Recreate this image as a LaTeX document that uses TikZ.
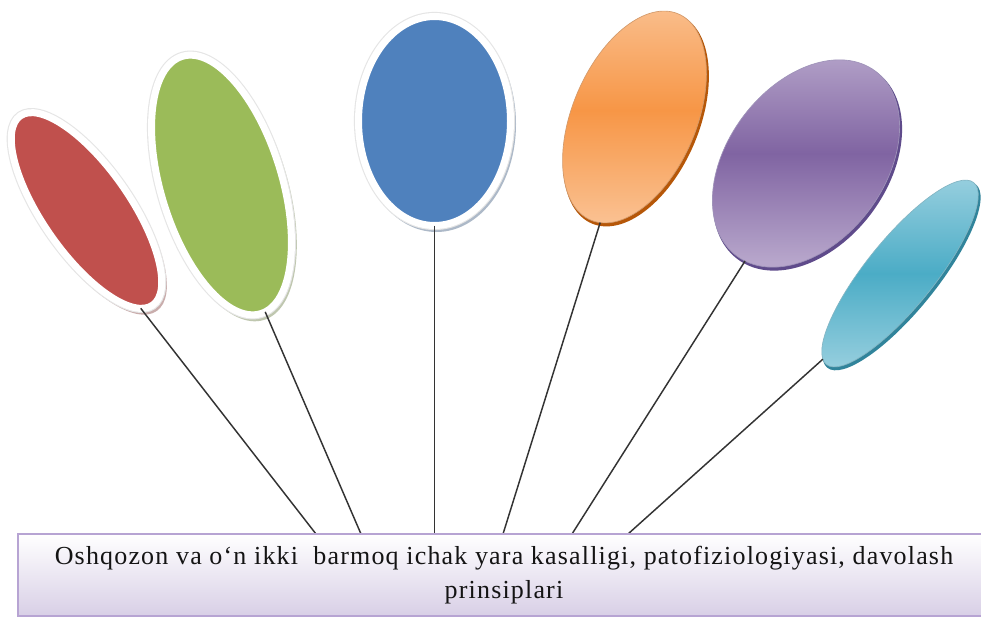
\documentclass[tikz,border=0pt]{standalone}
\usepackage{fontspec}
\setmainfont{Liberation Serif}
\usetikzlibrary{shapes.geometric}
\definecolor{cred}{HTML}{C0504D}
\definecolor{cgreen}{HTML}{9BBB59}
\definecolor{cblue}{HTML}{4F81BD}
\definecolor{orL}{HTML}{FAC090}
\definecolor{orM}{HTML}{F79646}
\definecolor{orD}{HTML}{B65708}
\definecolor{puL}{HTML}{B7A6CB}
\definecolor{puM}{HTML}{8064A2}
\definecolor{puD}{HTML}{5F4B8B}
\definecolor{cyL}{HTML}{93CDDD}
\definecolor{cyM}{HTML}{4BACC6}
\definecolor{cyD}{HTML}{31849B}
\definecolor{boxL}{HTML}{D8CFE6}
\definecolor{boxD}{HTML}{B7A4D3}
\definecolor{inkc}{HTML}{141414}
\newfontfamily\labelfont[LetterSpace=4.5]{Liberation Serif}
\tikzset{
  ell/.style 2 args={ellipse, inner sep=0pt, outer sep=0pt,
    minimum width={(#1)*1.5pt}, minimum height={(#2)*1.5pt}},
  link/.style={draw=black!80, line width=1.1pt},
  mainbox/.style={draw=boxD, line width=1.2pt, top color=white, bottom color=boxL,
    inner sep=0pt, align=center, text=inkc,
    font=\labelfont\fontsize{19.5}{26}\selectfont},
}
% name, cx, cy, semi-minor, semi-major, rotation, colour
\newcommand\flatball[7]{%
  \node[ell={#4+7}{#5+7}, rotate=#6, fill=#7!45!gray, opacity=0.55] at (#2+2,#3+3) {};
  \node[ell={#4+3.5}{#5+3.5}, rotate=#6, fill=#7, draw=white, line width=5.25pt,
        preaction={draw=black!10, line width=6.9pt}] (#1) at (#2,#3) {};
}
% name, cx, cy, semi-minor, semi-major, rotation, light, mid, dark
\newcommand\glossball[9]{%
  \node[ell={#4+1}{#5+1}, rotate=#6, fill=#9] at (#2+1.5,#3+2.5) {};
  \node[ell={#4}{#5}, rotate=#6, draw=#9!60, line width=0.5pt,
        top color=#7, bottom color=#7, middle color=#8] (#1) at (#2,#3) {};
}
\begin{document}
\begin{tikzpicture}[x=0.75pt, y=-0.75pt]
\useasboundingbox (0,0) rectangle (981,617);
\fill[white] (0,0) rectangle (981,617);

\flatball{red}{86.5}{210.5}{40}{112}{35}{cred}
\flatball{green}{221.5}{185}{57}{131}{17}{cgreen}
\flatball{blue}{434.5}{121}{72.5}{101}{0}{cblue}
\glossball{orange}{634.5}{117}{62}{112}{-23}{orL}{orM}{orD}
\glossball{purple}{806}{163.5}{78.5}{115.5}{-37}{puL}{puM}{puD}
\glossball{cyan}{900}{273.5}{34}{117}{-39}{cyL}{cyM}{cyD}

\coordinate (t1) at (316,534);
\coordinate (t2) at (361,534);
\coordinate (t3) at (434.5,534);
\coordinate (t4) at (503,534);
\coordinate (t5) at (572,534);
\coordinate (t6) at (628,534);

\draw[link] (red.-96) -- (t1);
\draw[link] (green.-88) -- (t2);
\draw[link] (blue.south) -- (t3);
\draw[link] (orange.-85) -- (t4);
\draw[link] (purple.-85) -- (t5);
\draw[link] (cyan.-93) -- (t6);

\node[mainbox, minimum width=972*0.75pt, minimum height=82*0.75pt] (box) at (504,575)
  {Oshqozon va o‘n ikki\ \ barmoq ichak yara kasalligi, patofiziologiyasi, davolash\\ prinsiplari};
\end{tikzpicture}
\end{document}
